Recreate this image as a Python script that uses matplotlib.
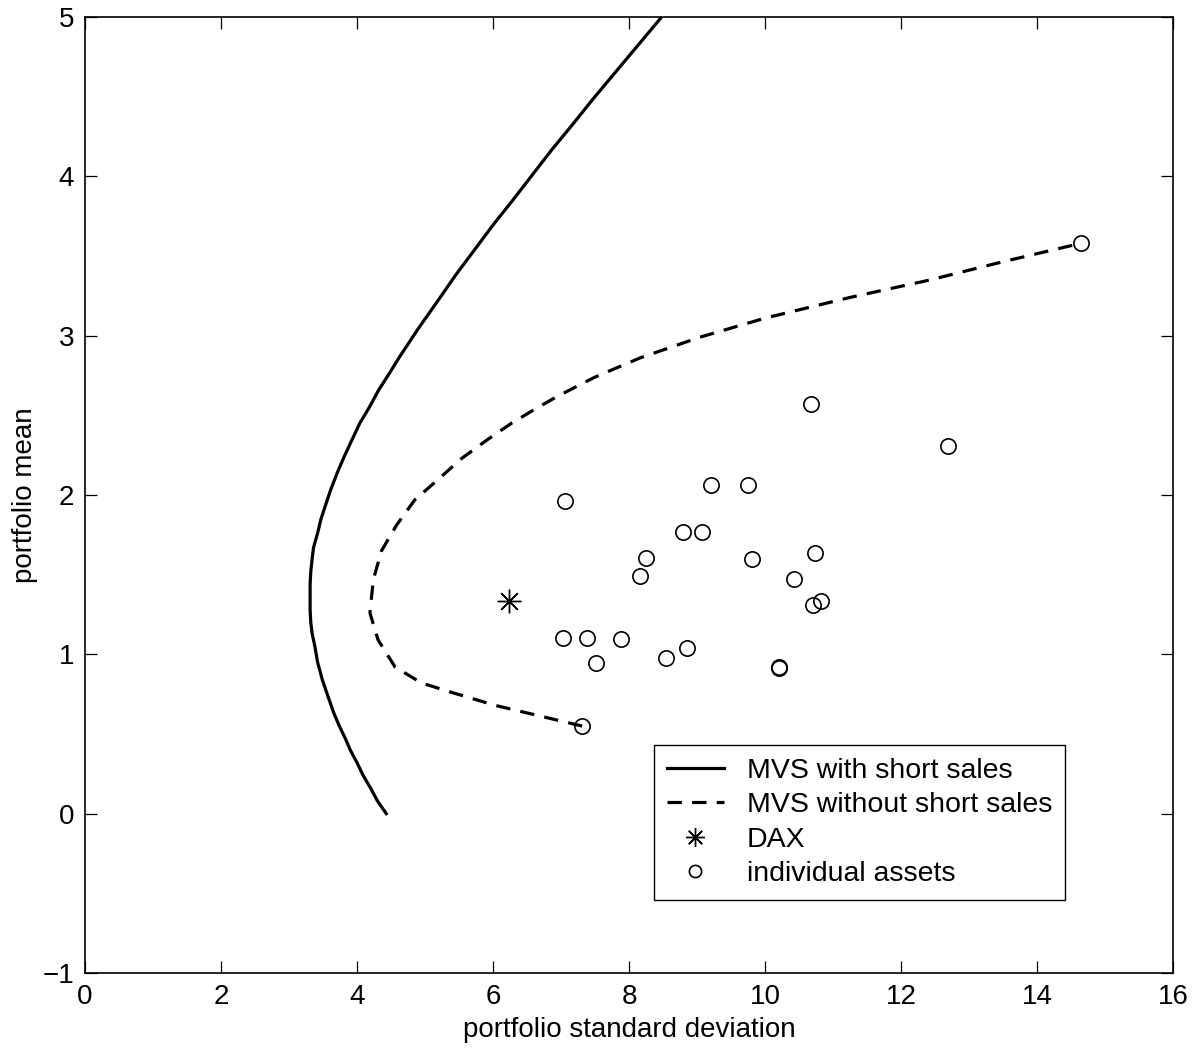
import matplotlib
matplotlib.use("Agg")
import matplotlib.pyplot as plt

plt.rcParams["font.family"] = ["Liberation Sans", "DejaVu Sans"]

# efficient frontier with short sales (sigma, mu)
mvs_short_sd = [4.43, 4.30, 4.20, 4.09, 4.00, 3.90, 3.83, 3.74, 3.66, 3.57,
                3.49, 3.42, 3.38, 3.34, 3.32, 3.31, 3.31, 3.31, 3.32, 3.34,
                3.36, 3.42, 3.47, 3.54, 3.61, 3.71, 3.81, 3.93, 4.04, 4.18,
                4.32, 4.47, 4.63, 4.91, 5.19, 5.45, 5.73, 6.01, 6.29, 6.58,
                6.87, 7.16, 7.46, 7.97, 8.48]
mvs_short_mu = [0.00, 0.08, 0.16, 0.24, 0.32, 0.40, 0.47, 0.55, 0.63, 0.74,
                0.84, 0.95, 1.05, 1.13, 1.20, 1.28, 1.36, 1.44, 1.52, 1.60,
                1.67, 1.76, 1.85, 1.94, 2.03, 2.14, 2.24, 2.35, 2.45, 2.55,
                2.66, 2.76, 2.87, 3.05, 3.22, 3.38, 3.54, 3.70, 3.85, 4.01,
                4.17, 4.32, 4.48, 4.74, 5.00]

# frontier without short sales
mvs_long_sd = [7.31, 6.72, 6.03, 5.44, 4.95, 4.56, 4.31, 4.19, 4.24, 4.36,
               4.58, 4.85, 5.20, 5.54, 5.91, 6.27, 6.62, 6.95, 7.50, 8.16,
               9.04, 10.00, 11.25, 12.43, 13.46, 14.65]
mvs_long_mu = [0.55, 0.61, 0.68, 0.755, 0.82, 0.92, 1.09, 1.26, 1.47, 1.65,
               1.81, 1.97, 2.10, 2.23, 2.345, 2.45, 2.54, 2.62, 2.74, 2.86,
               2.99, 3.11, 3.24, 3.35, 3.46, 3.58]

dax_sd = [6.24]
dax_mu = [1.334]

asset_sd = [7.06, 9.20, 9.75, 8.79, 9.07, 8.25, 8.16, 9.81, 10.73, 10.43,
            10.70, 10.82, 7.03, 7.38, 7.88, 7.51, 8.55, 8.85, 10.20, 10.21,
            10.68, 12.69, 14.65, 7.31]
asset_mu = [1.962, 2.062, 2.06, 1.767, 1.767, 1.604, 1.493, 1.596, 1.635, 1.47,
            1.309, 1.334, 1.102, 1.102, 1.098, 0.943, 0.974, 1.041, 0.915, 0.92,
            2.57, 2.307, 3.58, 0.549]

fig = plt.figure(figsize=(12.01, 10.55), dpi=100)
ax = fig.add_axes([0.0708, 0.0777, 0.9059, 0.9062])

ax.plot(mvs_short_sd, mvs_short_mu, color="black", lw=2.3,
        label="MVS with short sales")
ax.plot(mvs_long_sd, mvs_long_mu, color="black", lw=2.3,
        linestyle=(0, (4.5, 3.2)), label="MVS without short sales")
ax.plot(dax_sd, dax_mu, linestyle="none", marker=(8, 2, 0), markersize=17,
        color="black", markeredgewidth=1.0, label="DAX")
ax.plot(asset_sd, asset_mu, linestyle="none", marker="o", markersize=11,
        markerfacecolor="none", markeredgecolor="black", markeredgewidth=1.2,
        label="individual assets")

ax.set_xlim(0, 16)
ax.set_ylim(-1, 5)
ax.set_xticks(range(0, 17, 2))
ax.set_yticks(range(-1, 6))
ax.tick_params(direction="in", length=8.5, width=0.9, labelsize=20,
               top=True, right=True, pad=8)
for s in ax.spines.values():
    s.set_linewidth(1.2)

ax.set_xlabel("portfolio standard deviation", fontsize=20, labelpad=5)
ax.set_ylabel("portfolio mean", fontsize=20, labelpad=3)

leg = ax.legend(loc="lower left", bbox_to_anchor=(0.523, 0.0764),
                borderaxespad=0, fancybox=False, framealpha=1,
                edgecolor="black", fontsize=20.5, handlelength=2.0,
                handletextpad=0.8, labelspacing=0.3, borderpad=0.45,
                markerscale=0.8)
leg.get_frame().set_linewidth(1.0)

fig.savefig("out.png", dpi=100)
